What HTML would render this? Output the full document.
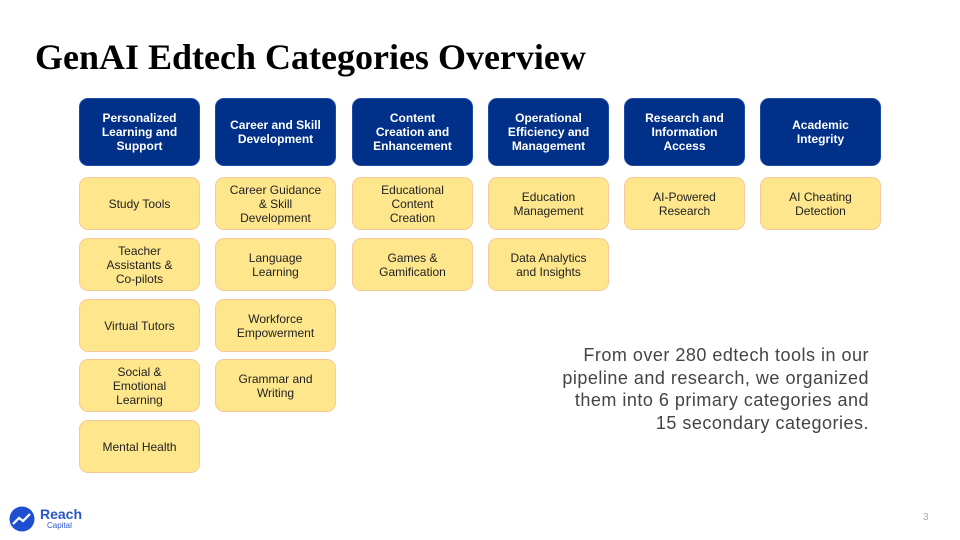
<!DOCTYPE html>
<html><head><style>
body{margin:0;width:960px;height:540px;background:#fff;position:relative;overflow:hidden;font-family:"Liberation Sans",sans-serif}
h1{position:absolute;left:35px;top:36px;margin:0;font-family:"Liberation Serif",serif;font-weight:bold;font-size:36px;color:#000;letter-spacing:0}
.b{position:absolute;width:121px;box-sizing:border-box;border-radius:9px;display:flex;align-items:center;justify-content:center;text-align:center;font-size:12px;line-height:14px;padding:0 8px}
.h{background:#003087;color:#fff;font-weight:bold;height:68px;top:98px;border:1px solid #1a4aa8}
.y{background:#fde68c;color:#222;border:1px solid #f8c99a;height:53px}
.txt{position:absolute;right:91px;top:344px;text-align:right;font-size:18px;line-height:22.7px;color:#444;letter-spacing:0.5px}
</style></head><body>
<h1>GenAI Edtech Categories Overview</h1>
<div class="b h" style="left:79px">Personalized<br>Learning and<br>Support</div>
<div class="b h" style="left:215px">Career and Skill<br>Development</div>
<div class="b h" style="left:352px">Content<br>Creation and<br>Enhancement</div>
<div class="b h" style="left:488px">Operational<br>Efficiency and<br>Management</div>
<div class="b h" style="left:624px">Research and<br>Information<br>Access</div>
<div class="b h" style="left:760px">Academic<br>Integrity</div>

<div class="b y" style="left:79px;top:177px">Study Tools</div>
<div class="b y" style="left:79px;top:238px">Teacher<br>Assistants &amp;<br>Co-pilots</div>
<div class="b y" style="left:79px;top:299px">Virtual Tutors</div>
<div class="b y" style="left:79px;top:359px">Social &amp;<br>Emotional<br>Learning</div>
<div class="b y" style="left:79px;top:420px">Mental Health</div>

<div class="b y" style="left:215px;top:177px">Career Guidance<br>&amp; Skill<br>Development</div>
<div class="b y" style="left:215px;top:238px">Language<br>Learning</div>
<div class="b y" style="left:215px;top:299px">Workforce<br>Empowerment</div>
<div class="b y" style="left:215px;top:359px">Grammar and<br>Writing</div>

<div class="b y" style="left:352px;top:177px">Educational<br>Content<br>Creation</div>
<div class="b y" style="left:352px;top:238px">Games &amp;<br>Gamification</div>

<div class="b y" style="left:488px;top:177px">Education<br>Management</div>
<div class="b y" style="left:488px;top:238px">Data Analytics<br>and Insights</div>

<div class="b y" style="left:624px;top:177px">AI-Powered<br>Research</div>
<div class="b y" style="left:760px;top:177px">AI Cheating<br>Detection</div>

<div class="txt">From over 280 edtech tools in our<br>pipeline and research, we organized<br>them into 6 primary categories and<br>15 secondary categories.</div>

<svg style="position:absolute;left:9px;top:506px" width="26" height="26" viewBox="0 0 26 26"><circle cx="13" cy="13" r="12.5" fill="#1f4fd1"/><path d="M4 18 L10 12 L14 15 L21 8" stroke="#fff" stroke-width="2.2" fill="none"/></svg>
<div style="position:absolute;left:40px;top:506px;font-size:14px;font-weight:bold;color:#2a56c8">Reach</div>
<div style="position:absolute;left:47px;top:521px;font-size:8px;color:#2a56c8">Capital</div>
<div style="position:absolute;left:923px;top:512px;font-size:10px;color:#aaa">3</div>
</body></html>
